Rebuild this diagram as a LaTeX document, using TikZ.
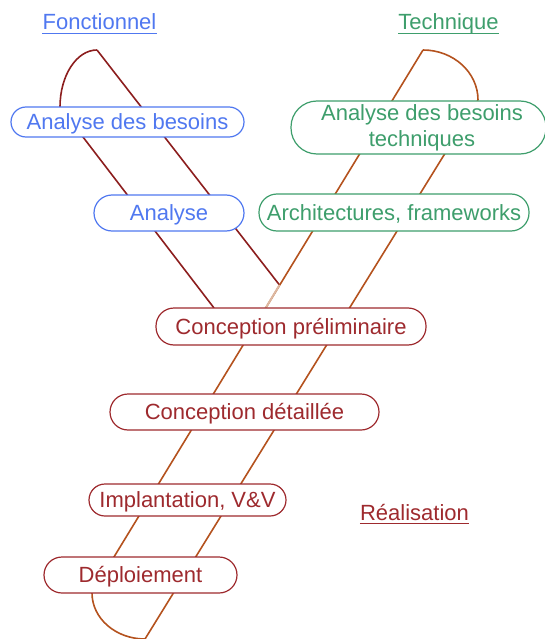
\documentclass[tikz,border=0pt]{standalone}
\usepackage{fontspec}
\setmainfont{Liberation Sans}
\definecolor{fblue}{HTML}{5078F0}
\definecolor{tgreen}{HTML}{3E9E6C}
\definecolor{rred}{HTML}{9E2A2E}
\definecolor{lbrown}{HTML}{B4521E}
\definecolor{ldark}{HTML}{8C1E1E}
\definecolor{lpale}{HTML}{DDB8A0}
\begin{document}
\begin{tikzpicture}[x=1pt,y=-1pt,
  txt/.style={font=\fontsize{22}{26}\selectfont},
  pill/.style={draw, fill=white, line width=1.2pt, inner sep=0pt, text height=15.7pt, text depth=0pt, font=\fontsize{22}{26}\selectfont},
  head/.style={inner sep=0pt, anchor=base, font=\fontsize{22}{26}\selectfont},
  fline/.style={draw=ldark, line width=1.6pt},
  tline/.style={draw=lbrown, line width=1.6pt}]
\useasboundingbox (0,0) rectangle (545,639);

% coordinates
\coordinate (fa) at (60,107);
\coordinate (fb) at (97,50);
\coordinate (fc) at (214,308);
\coordinate (J) at (279.5,285);
\coordinate (ta) at (423,50);
\coordinate (tb) at (478,100);
\coordinate (ba) at (92,593);
\coordinate (bb) at (145,639);
\coordinate (P) at (265.4,308.5);

% fonctionnel branch
\draw[fline] (fa) .. controls (60,75.5) and (76.6,50) .. (fb);
\draw[fline] (fb) -- (J);
\draw[fline] (fa) -- (fc);

% technique branch
\draw[tline] (ta) .. controls (453.4,50) and (478,72.4) .. (tb);
\draw[tline] (ta) -- (ba);
\draw[tline] (tb) -- (bb);
\draw[tline] (ba) .. controls (92,618.4) and (115.7,639) .. (bb);
\draw[draw=lpale, line width=1.9pt] (J) -- (P);

% boxes
\node[pill, draw=fblue, text=fblue, minimum width=233pt, minimum height=30pt, rounded corners=15pt] (besoins) at (127.5,122) {Analyse des besoins};
\node[pill, draw=fblue, text=fblue, minimum width=150pt, minimum height=36pt, rounded corners=18pt] (analyse) at (169,213) {Analyse};
\node[pill, draw=tgreen, minimum width=255pt, minimum height=53pt, rounded corners=26pt] (techbox) at (418.5,127.5) {};
\node[txt, text=tgreen, align=center, inner sep=0pt] (techtext) at (422,128) {Analyse des besoins\\techniques};
\node[pill, draw=tgreen, text=tgreen, minimum width=270pt, minimum height=37pt, rounded corners=18pt] (archi) at (394,212.5) {Architectures, frameworks};
\node[pill, draw=rred, text=rred, minimum width=270pt, minimum height=37pt, rounded corners=18pt] (cprelim) at (291,326.5) {Conception préliminaire};
\node[pill, draw=rred, text=rred, minimum width=269pt, minimum height=36pt, rounded corners=18pt] (cdetail) at (244.5,412) {Conception détaillée};
\node[pill, draw=rred, text=rred, minimum width=197pt, minimum height=32pt, rounded corners=16pt] (impl) at (187.5,500) {Implantation, V\&V};
\node[pill, draw=rred, text=rred, minimum width=193pt, minimum height=36pt, rounded corners=18pt] (deploi) at (140.5,575) {Déploiement};

% headings
\node[head, text=fblue] (fonc) at (99.5,29.5) {Fonctionnel};
\draw[fblue, line width=1.1pt] ([yshift=-3.8pt]fonc.base west) -- ([yshift=-3.8pt]fonc.base east);
\node[head, text=tgreen] (tech) at (448.5,29.5) {Technique};
\draw[tgreen, line width=1.1pt] ([yshift=-3.8pt]tech.base west) -- ([yshift=-3.8pt]tech.base east);
\node[head, text=rred] (real) at (414.5,520) {Réalisation};
\draw[rred, line width=1.1pt] ([yshift=-3.8pt]real.base west) -- ([yshift=-3.8pt]real.base east);
\end{tikzpicture}
\end{document}
